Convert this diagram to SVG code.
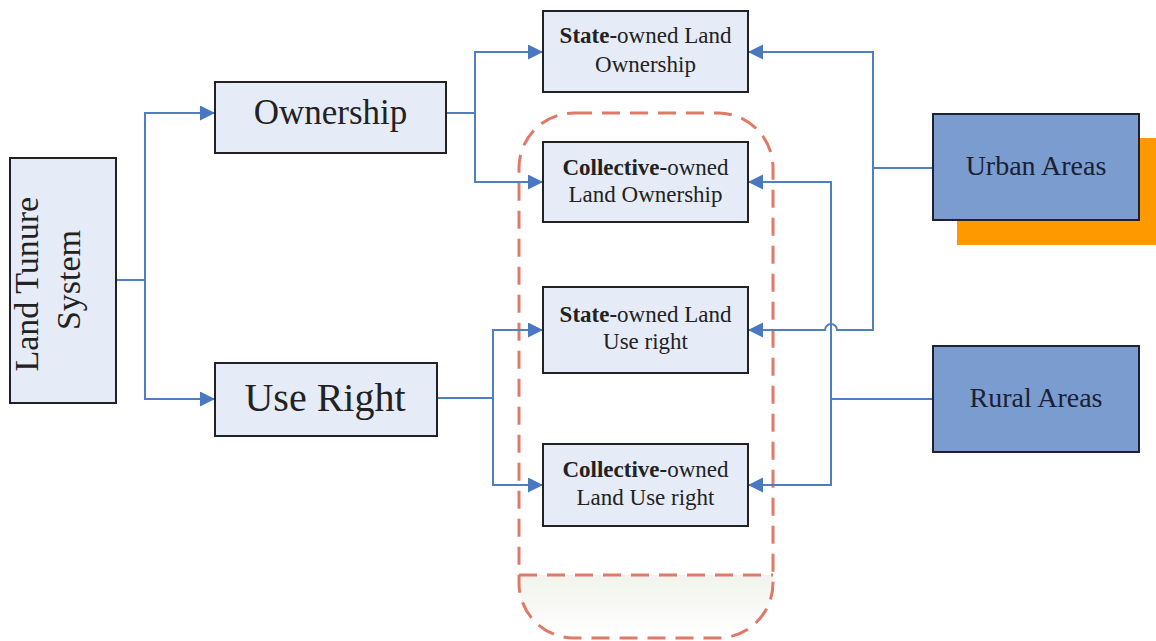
<svg xmlns="http://www.w3.org/2000/svg" width="1156" height="641" viewBox="0 0 1156 641">
  <defs>
    <marker id="arr" markerUnits="userSpaceOnUse" markerWidth="16" markerHeight="16" refX="15" refY="7.5" orient="auto">
      <path d="M0,0 L15,7.5 L0,15 Z" fill="#4A78C0"/>
    </marker>
    <linearGradient id="bottomFill" x1="0" y1="0" x2="0" y2="1">
      <stop offset="0" stop-color="#F1F3EC"/>
      <stop offset="1" stop-color="#FFFFFF"/>
    </linearGradient>
    <style>
      .box { fill: #E6ECF7; stroke: #222; stroke-width: 2; }
      .area { fill: #7B9CCF; stroke: #1E2230; stroke-width: 2; }
      .conn { fill: none; stroke: #4F7FC0; stroke-width: 2; }
      .txt { font-family: "Liberation Serif", "Times New Roman", serif; fill: #222; text-anchor: middle; }
      .sm { font-size: 23px; }
      .dash { fill: none; stroke: #E07A68; stroke-width: 3; stroke-dasharray: 18 10; }
    </style>
  </defs>
  <rect width="1156" height="641" fill="#FFFFFF"/>

  <g id="group-frame">
    <path d="M519,575 H773 V583 A55,55 0 0 1 718,638 H574 A55,55 0 0 1 519,583 Z" fill="url(#bottomFill)"/>
    <rect class="dash" x="519" y="113" width="254" height="525" rx="55" ry="55"/>
    <line class="dash" x1="519" y1="575" x2="773" y2="575"/>
  </g>

  <g id="connectors">
    <path class="conn" d="M116,280 H145 V113 H215" marker-end="url(#arr)"/>
    <path class="conn" d="M145,280 V399 H215" marker-end="url(#arr)"/>
    <path class="conn" d="M446,113 H475 V52 H543" marker-end="url(#arr)"/>
    <path class="conn" d="M475,113 V182 H543" marker-end="url(#arr)"/>
    <path class="conn" d="M437,398 H493 V330 H543" marker-end="url(#arr)"/>
    <path class="conn" d="M493,398 V485 H543" marker-end="url(#arr)"/>
    <path class="conn" d="M933,168 H873 V52 H748" marker-end="url(#arr)"/>
    <path class="conn" d="M873,168 V330 H837 A6,6 0 0 0 825,330 H748" marker-end="url(#arr)"/>
    <path class="conn" d="M933,399 H831 V182 H748" marker-end="url(#arr)"/>
    <path class="conn" d="M831,399 V485 H748" marker-end="url(#arr)"/>
  </g>

  <g id="node-land-tenure">
    <rect class="box" x="10" y="158" width="106" height="245"/>
    <text class="txt" transform="translate(63,280) rotate(-90)" style="font-size:34px">
      <tspan x="0" y="-25">Land Tunure</tspan>
      <tspan x="0" y="17">System</tspan>
    </text>
  </g>

  <g id="node-ownership">
    <rect class="box" x="215" y="82" width="231" height="71"/>
    <text class="txt" x="330.5" y="124" style="font-size:35px">Ownership</text>
  </g>

  <g id="node-use-right">
    <rect class="box" x="215" y="363" width="222" height="73"/>
    <text class="txt" x="325" y="411" style="font-size:40px">Use Right</text>
  </g>

  <g id="node-state-ownership">
    <rect class="box" x="543" y="11" width="205" height="81"/>
    <text class="txt sm" x="645.5" y="43"><tspan font-weight="bold">State-</tspan>owned Land</text>
    <text class="txt sm" x="645.5" y="72">Ownership</text>
  </g>

  <g id="node-collective-ownership">
    <rect class="box" x="543" y="142" width="205" height="80"/>
    <text class="txt sm" x="645.5" y="175"><tspan font-weight="bold">Collective-</tspan>owned</text>
    <text class="txt sm" x="645.5" y="202">Land Ownership</text>
  </g>

  <g id="node-state-use">
    <rect class="box" x="543" y="287" width="205" height="86"/>
    <text class="txt sm" x="645.5" y="322"><tspan font-weight="bold">State-</tspan>owned Land</text>
    <text class="txt sm" x="645.5" y="349">Use right</text>
  </g>

  <g id="node-collective-use">
    <rect class="box" x="543" y="444" width="205" height="82"/>
    <text class="txt sm" x="645.5" y="477"><tspan font-weight="bold">Collective-</tspan>owned</text>
    <text class="txt sm" x="645.5" y="505">Land Use right</text>
  </g>

  <g id="node-urban">
    <rect x="957" y="138" width="199" height="107" fill="#FF9900"/>
    <rect class="area" x="933" y="114" width="206" height="106"/>
    <text class="txt" x="1036" y="175" style="font-size:28px;fill:#1A2035">Urban Areas</text>
  </g>

  <g id="node-rural">
    <rect class="area" x="933" y="346" width="206" height="106"/>
    <text class="txt" x="1036" y="407" style="font-size:28px;fill:#1A2035">Rural Areas</text>
  </g>
</svg>
